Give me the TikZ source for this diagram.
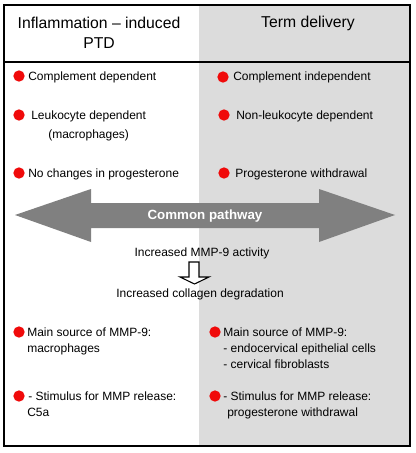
\documentclass[tikz,border=0pt]{standalone}
\usepackage{fontspec}
\setmainfont{Liberation Sans}
\usetikzlibrary{arrows}
\definecolor{panelgray}{RGB}{220,220,220}
\definecolor{arrowgray}{RGB}{128,128,128}
\definecolor{dotred}{RGB}{240,10,10}

\begin{document}
\begin{tikzpicture}[x=0.75pt,y=-0.75pt,
        dot/.style={circle,fill=dotred,inner sep=0pt,minimum size=8.5pt},
        txt/.style={anchor=mid west,inner sep=0pt,font=\fontsize{9}{11}\selectfont},
        mid/.style={inner sep=0pt,font=\fontsize{9}{11}\selectfont},
        head/.style={align=center,inner sep=0pt,font=\fontsize{11.8}{15}\selectfont}]
                \useasboundingbox (0,0) rectangle (415,453);
                \fill[white] (0,0) rectangle (415,453);
                \fill[panelgray] (199,5) rectangle (410,446);
                \draw[line width=1.9pt] (4,5) rectangle (410,446);
                \draw[line width=1.6pt] (4,62) -- (410,62);
                % headings
                \node[head] (ptd) at (99,33) {Inflammation – induced\\PTD};
                \node[head] (term) at (308,23) {Term delivery};
                % upper rows
                \node[dot] (l1) at (19,76) {};
                \node[txt] (l1t) at (28,77) {Complement dependent};
                \node[dot] (l2) at (19,115) {};
                \node[txt] (l2t) at (31,116) {Leukocyte dependent};
                \node[txt] (l2m) at (48,135) {(macrophages)};
                \node[dot] (l3) at (19,173) {};
                \node[txt] (l3t) at (28,174) {No changes in progesterone};
                \node[dot] (r1) at (223,77) {};
                \node[txt] (r1t) at (233,77) {Complement independent};
                \node[dot] (r2) at (224,115) {};
                \node[txt] (r2t) at (236,116) {Non-leukocyte dependent};
                \node[dot] (r3) at (224,173) {};
                \node[txt] (r3t) at (235,174) {Progesterone withdrawal};
                % common pathway
                \fill[arrowgray] (15,215) -- (91,189) -- (91,203) -- (319,203) -- (319,189) -- (395,215)
                    -- (319,242) -- (319,228) -- (91,228) -- (91,242) -- cycle;
                \node[text=white,font=\bfseries\fontsize{10}{12}\selectfont] (common) at (205,216) {Common pathway};
                \node[mid] (act) at (202,253) {Increased MMP-9 activity};
                \draw[line width=0.8pt,fill=white] (189,262) -- (199,262) -- (199,277) -- (209,277)
                    -- (194.5,284) -- (180,277) -- (189,277) -- cycle;
                \node[mid] (deg) at (200,294) {Increased collagen degradation};
                % lower rows
                \node[dot] (l4) at (19,332) {};
                \node[txt] (l4t) at (27,333) {Main source of MMP-9:};
                \node[txt] (l4m) at (27,349) {macrophages};
                \node[dot] (l5) at (19,396) {};
                \node[txt] (l5t) at (28,397) {- Stimulus for MMP release:};
                \node[txt] (l5m) at (27,413) {C5a};
                \node[dot] (r4) at (215,332) {};
                \node[txt] (r4t) at (223,333) {Main source of MMP-9:};
                \node[txt] (r4a) at (223,349) {- endocervical epithelial cells};
                \node[txt] (r4b) at (223,365) {- cervical fibroblasts};
                \node[dot] (r5) at (215,396) {};
                \node[txt] (r5t) at (223,397) {- Stimulus for MMP release:};
                \node[txt] (r5m) at (227,413) {progesterone withdrawal};
            \end{tikzpicture}
\end{document}
